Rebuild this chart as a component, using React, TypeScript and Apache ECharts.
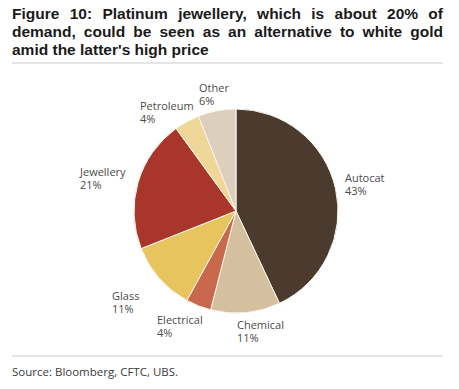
import React, { useEffect, useRef } from "react";
import * as echarts from "echarts";

const categories = ["Autocat", "Chemical", "Electrical", "Glass", "Jewellery", "Petroleum", "Other"];
const shares = [43, 11, 4, 11, 21, 4, 6];
const sliceColors = ["#4b3a2e", "#d4bf9e", "#c8684c", "#e8c45e", "#a8362a", "#efd699", "#dccfbd"];

const titleLines = [
  "Figure 10: Platinum jewellery, which is about 20% of",
  "demand, could be seen as an alternative to white gold",
  "amid the latter's high price",
];
const sourceText = "Source: Bloomberg, CFTC, UBS.";

// label top-left anchors (layout only)
const labelAnchors: [number, number][] = [
  [345, 170.5],
  [237, 317.5],
  [157, 312.5],
  [112, 288.5],
  [80, 164.5],
  [140, 98.5],
  [199, 80.5],
];

const TITLE_FONT_SIZE = 15.5;
const TITLE_FONT = `bold ${TITLE_FONT_SIZE}px "Liberation Sans"`;
const LEFT = 12;
const RIGHT = 443;

function measure(text: string, font: string): number {
  const c = document.createElement("canvas");
  const ctx = c.getContext("2d")!;
  ctx.font = font;
  return ctx.measureText(text).width;
}

function titleGraphics() {
  const els: any[] = [];
  const ys = [13, 31, 49];
  titleLines.forEach((line, i) => {
    const justify = i < titleLines.length - 1;
    if (!justify) {
      els.push({
        type: "text",
        x: LEFT,
        y: ys[i],
        style: { text: line, font: TITLE_FONT, fill: "#1a1a1a", verticalAlign: "middle" },
      });
      return;
    }
    const words = line.split(" ");
    const widths = words.map((w) => measure(w, TITLE_FONT));
    const total = widths.reduce((a, b) => a + b, 0);
    const gap = (RIGHT - LEFT - total) / (words.length - 1);
    let x = LEFT;
    words.forEach((w, k) => {
      els.push({
        type: "text",
        x,
        y: ys[i],
        style: { text: w, font: TITLE_FONT, fill: "#1a1a1a", verticalAlign: "middle" },
      });
      x += widths[k] + gap;
    });
  });
  return els;
}

export default function App() {
  const ref = useRef<HTMLDivElement>(null);
  useEffect(() => {
    document.body.style.margin = "0";
    const chart = echarts.init(ref.current!, null, { renderer: "svg" });
    const option: any = {
      animation: false,
      backgroundColor: "#ffffff",
      graphic: [
        ...titleGraphics(),
        {
          type: "line",
          shape: { x1: LEFT, y1: 63, x2: RIGHT, y2: 63 },
          style: { stroke: "#dcdcdc", lineWidth: 1.5 },
        },
        {
          type: "line",
          shape: { x1: LEFT, y1: 356, x2: RIGHT, y2: 356 },
          style: { stroke: "#dcdcdc", lineWidth: 1.5 },
        },
        {
          type: "text",
          x: LEFT,
          y: 371,
          style: {
            text: sourceText,
            font: '11.5px "Open Sans"',
            fill: "#3a3a3a",
            verticalAlign: "middle",
          },
        },
      ],
      series: [
        {
          type: "pie",
          center: [236, 211],
          radius: 102,
          startAngle: 90,
          clockwise: true,
          silent: true,
          itemStyle: { borderColor: "#fbf6ec", borderWidth: 1 },
          label: {
            show: true,
            position: "outside",
            formatter: (p: any) => `{a|${p.name}}\n{a|${p.value}%}`,
            rich: {
              a: {
                fontFamily: "Open Sans",
                fontSize: 11,
                color: "#4a4a4a",
                lineHeight: 13.5,
                align: "left",
              },
            },
          },
          labelLine: { show: false },
          labelLayout: (params: any) => {
            const a = labelAnchors[params.dataIndex];
            return { x: a[0], y: a[1], align: "left", verticalAlign: "top" };
          },
          data: categories.map((name, i) => ({
            name,
            value: shares[i],
            itemStyle: { color: sliceColors[i] },
          })),
        },
      ],
    };
    chart.setOption(option);
    return () => chart.dispose();
  }, []);
  return <div ref={ref} style={{ width: 459, height: 389 }} />;
}
